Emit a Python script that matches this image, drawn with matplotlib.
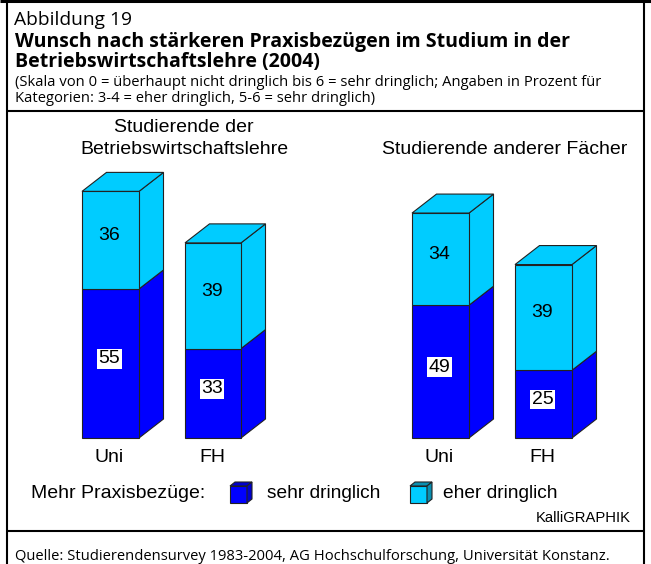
import matplotlib
matplotlib.use("Agg")
import matplotlib.pyplot as plt
from matplotlib.patches import Polygon

W, H = 651, 564

categories = ["Uni", "FH", "Uni", "FH"]
sehr = [55, 33, 49, 25]
eher = [36, 39, 34, 39]
left_px = [82, 185, 412, 515]
width_px = [57, 56, 57, 57]

DARK = "#0000ff"
LIGHT = "#00ccff"
EDGE = "#222222"
BOTTOM = 438       # pixel row of value 0
PX_PER_UNIT = 2.71
DX, DY = 24.5, 19  # depth of the 3d blocks in pixels
HEAD = "Open Sans"
BODY = "Liberation Sans"

fig = plt.figure(figsize=(W / 100, H / 100), dpi=100)

# background axes in pixels, for frame and texts
bg = fig.add_axes([0, 0, 1, 1])
bg.set_xlim(0, W)
bg.set_ylim(H, 0)
bg.axis("off")

# chart axes: x in pixels, y in percent
ax = fig.add_axes([0, (H - BOTTOM) / H, 1, 100 * PX_PER_UNIT / H])
ax.set_xlim(0, W)
ax.set_ylim(0, 100)
ax.axis("off")
ax.patch.set_alpha(0)
dy = DY / PX_PER_UNIT
lift = 4.5 / PX_PER_UNIT  # the numbers sit a little above the segment centre


def block(x, w, y0, h, color):
    ax.bar(x, h, w, bottom=y0, align="edge", color=color, edgecolor=EDGE, lw=0.8, clip_on=False, zorder=3)
    y1 = y0 + h
    ax.add_patch(Polygon([(x + w, y0), (x + w + DX, y0 + dy), (x + w + DX, y1 + dy), (x + w, y1)],
                         fc=color, ec=EDGE, lw=0.8, clip_on=False, zorder=2))


for i in range(4):
    x, w = left_px[i], width_px[i]
    block(x, w, 0, sehr[i], DARK)
    block(x, w, sehr[i], eher[i], LIGHT)
    top = sehr[i] + eher[i]
    ax.add_patch(Polygon([(x, top), (x + DX, top + dy), (x + w + DX, top + dy), (x + w, top)],
                         fc=LIGHT, ec=EDGE, lw=0.8, clip_on=False, zorder=2))
    ax.text(x + w / 2 - 1, sehr[i] / 2 + lift, sehr[i], ha="center", va="center", family=BODY, fontsize=14, zorder=5,
            bbox=dict(fc="white", ec="none", pad=1))
    ax.text(x + w / 2 - 1, sehr[i] + eher[i] / 2 + lift, eher[i], ha="center", va="center", family=BODY,
            fontsize=14, zorder=5)
    bg.text(x + w / 2 - 1, 457, categories[i], ha="center", va="center", family=BODY, fontsize=14)

# frame
bg.plot((0, W), (1.2, 1.2), color="black", lw=2.2, solid_capstyle="butt")
for xs, ys in [((7, 7), (0, H)), ((644, 644), (0, H)), ((7, 644), (110.5, 110.5)), ((7, 644), (531, 531))]:
    bg.plot(xs, ys, color="black", lw=1.5, solid_capstyle="butt")

# header
bg.text(14, 25, "Abbildung 19", family=HEAD, fontsize=13.8, va="baseline")
bg.text(15, 47.5, "Wunsch nach stärkeren Praxisbezügen im Studium in der", family=HEAD, weight="bold", fontsize=14, va="baseline")
bg.text(15, 67, "Betriebswirtschaftslehre (2004)", family=HEAD, weight="bold", fontsize=14, va="baseline")
bg.text(15, 86, "(Skala von 0 = überhaupt nicht dringlich bis 6 = sehr dringlich; Angaben in Prozent für", family=HEAD, fontsize=10.6, va="baseline")
bg.text(15, 102.5, "Kategorien: 3-4 = eher dringlich, 5-6 = sehr dringlich)", family=HEAD, fontsize=10.6, va="baseline")

# group titles
bg.text(184, 127, "Studierende der", ha="center", va="center", family=BODY, fontsize=14)
bg.text(184, 150, "Betriebswirtschaftslehre", ha="center", va="center", family=BODY, fontsize=14)
bg.text(504.5, 150, "Studierende anderer Fächer", ha="center", va="center", family=BODY, fontsize=14)

# legend
bg.text(31, 493, "Mehr Praxisbezüge:", va="center", family=BODY, fontsize=14)
for x0, col, shade, label, tx in [(230, DARK, "#0000cc", "sehr dringlich", 267), (410, LIGHT, "#0a8fb0", "eher dringlich", 443)]:
    bg.add_patch(Polygon([(x0, 486), (x0 + 17, 486), (x0 + 17, 503), (x0, 503)], fc=col, ec=EDGE, lw=0.8))
    bg.add_patch(Polygon([(x0, 486), (x0 + 5, 482), (x0 + 22, 482), (x0 + 17, 486)], fc=shade, ec=EDGE, lw=0.8))
    bg.add_patch(Polygon([(x0 + 17, 486), (x0 + 22, 482), (x0 + 22, 499), (x0 + 17, 503)], fc=shade, ec=EDGE, lw=0.8))
    bg.text(tx, 493, label, va="center", family=BODY, fontsize=13.8)

bg.text(631, 518, "KalliGRAPHIK", ha="right", va="center", family=BODY, fontsize=10.6)
bg.text(15, 560, "Quelle: Studierendensurvey 1983-2004, AG Hochschulforschung, Universität Konstanz.", family=HEAD, fontsize=10.6, va="baseline")

fig.savefig("out.png", dpi=100)
